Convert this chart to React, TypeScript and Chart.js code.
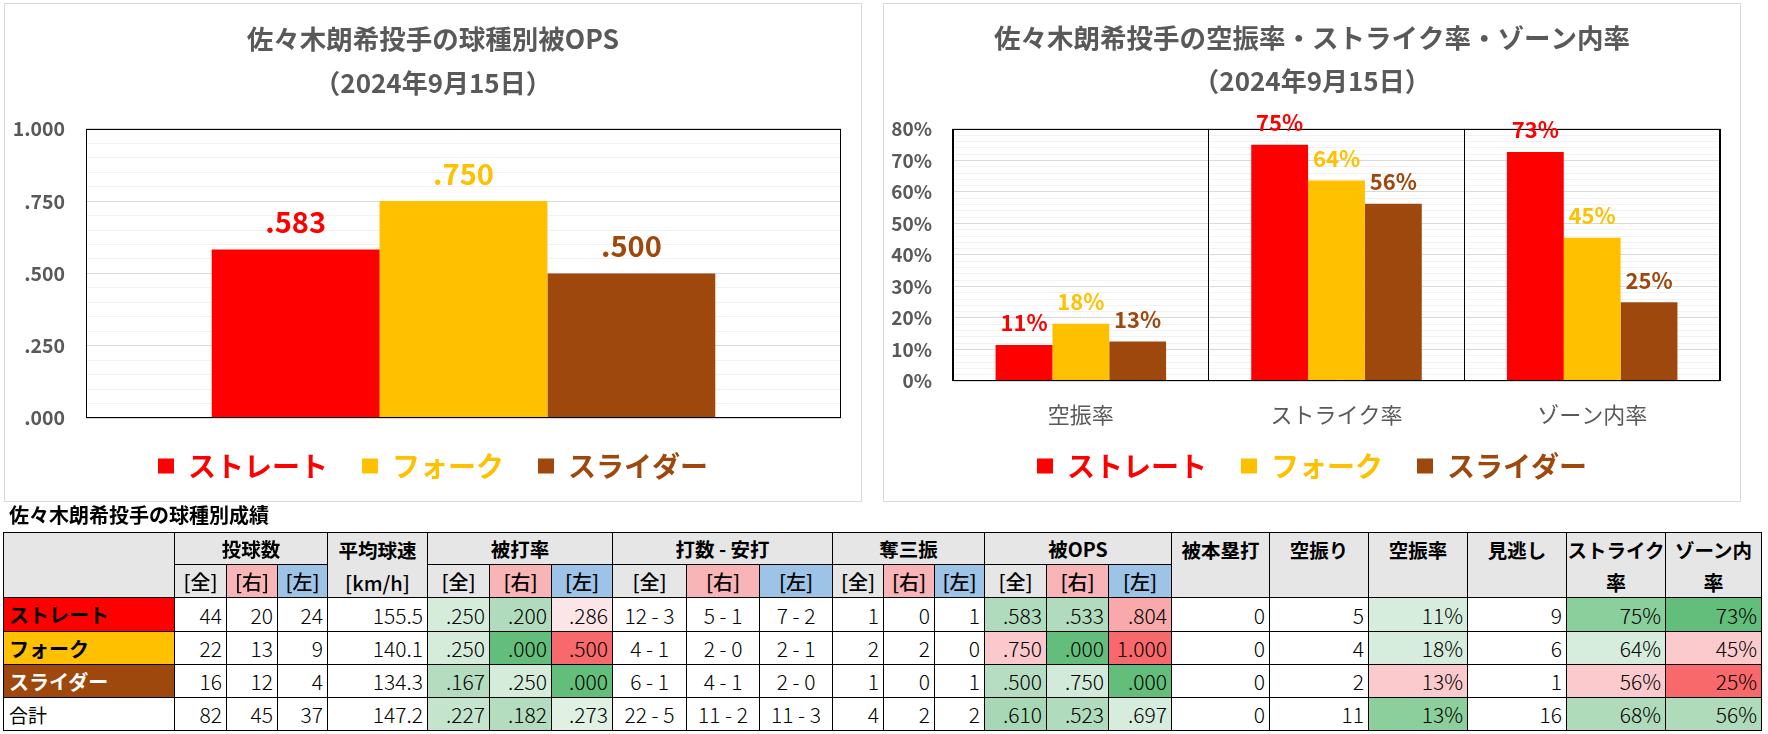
import React, { useEffect, useRef } from 'react';
import { Chart, registerables } from 'chart.js';

Chart.register(...registerables);

// ---------------- data ----------------
const pitchTypes = ['ストレート', 'フォーク', 'スライダー'];
const opsCategory = ['被OPS'];
const opsValues = [0.583, 0.75, 0.5];
const opsTickValues = [0, 0.25, 0.5, 0.75, 1];
const opsTickLabels = ['.000', '.250', '.500', '.750', '1.000'];

const rateCategories = ['空振率', 'ストライク率', 'ゾーン内率'];
const straightRates = [0.114, 0.75, 0.727];
const forkRates = [0.182, 0.636, 0.4545];
const sliderRates = [0.125, 0.5625, 0.25];
const rateTickValues = [0, 0.1, 0.2, 0.3, 0.4, 0.5, 0.6, 0.7, 0.8];
const rateTickLabels = ['0%', '10%', '20%', '30%', '40%', '50%', '60%', '70%', '80%'];

const opsTitle = '佐々木朗希投手の球種別被OPS';
const rateTitle = '佐々木朗希投手の空振率・ストライク率・ゾーン内率';
const dateLabel = '（2024年9月15日）';

const tableTitle = '佐々木朗希投手の球種別成績';
const rowNames = ['ストレート', 'フォーク', 'スライダー', '合計'];
const splitLabels = ['[全]', '[右]', '[左]'];
const pitchCounts = [[44, 20, 24], [22, 13, 9], [16, 12, 4], [82, 45, 37]];
const avgSpeeds = ['155.5', '140.1', '134.3', '147.2'];
const battingAvgs = [['.250', '.200', '.286'], ['.250', '.000', '.500'], ['.167', '.250', '.000'], ['.227', '.182', '.273']];
const atBatsHits = [['12 - 3', '5 - 1', '7 - 2'], ['4 - 1', '2 - 0', '2 - 1'], ['6 - 1', '4 - 1', '2 - 0'], ['22 - 5', '11 - 2', '11 - 3']];
const strikeouts = [[1, 0, 1], [2, 2, 0], [1, 0, 1], [4, 2, 2]];
const opsSplits = [['.583', '.533', '.804'], ['.750', '.000', '1.000'], ['.500', '.750', '.000'], ['.610', '.523', '.697']];
const homeRuns = [0, 0, 0, 0];
const swingMisses = [5, 4, 2, 11];
const whiffRateTexts = ['11%', '18%', '13%', '13%'];
const calledStrikes = [9, 6, 1, 16];
const strikeRateTexts = ['75%', '64%', '56%', '68%'];
const zoneRateTexts = ['73%', '45%', '25%', '56%'];

// ---------------- styles ----------------
const FONT = "'Noto Sans CJK JP', 'Noto Sans', sans-serif";
const GRAY = '#595959';
const pitchColors = ['#ff0000', '#ffc000', '#9e480e'];
const nameBg = ['#ff0000', '#ffc000', '#9e480e', '#ffffff'];
const nameColor = ['#000000', '#000000', '#ffffff', '#000000'];
const HDR = '#e7e6e6';
const PINK = '#f8b4b7';
const BLUE = '#9dc3e6';
const splitBg = [HDR, PINK, BLUE];
const battingAvgBg = [
  ['#d5ecdb', '#b1dbbd', '#fce5e7'],
  ['#d5ecdb', '#63be7b', '#f8696b'],
  ['#b4dcbf', '#d5ecdb', '#63be7b'],
  ['#c5e4cd', '#b4dcbf', '#e0f1e4'],
];
const opsBg = [
  ['#b1dbbd', '#b1dbbd', '#f9a9ab'],
  ['#fbc9cc', '#63be7b', '#f8696b'],
  ['#b6ddc1', '#d2eada', '#63be7b'],
  ['#a7d7b4', '#b0dbbc', '#d6ecdc'],
];
const whiffRateBg = ['#d6ecdc', '#d6ecdc', '#fbcacc', '#8ccf9d'];
const strikeRateBg = ['#8acf9c', '#d6ecdc', '#fbcacc', '#b0dbbb'];
const zoneRateBg = ['#63be7b', '#fbcacc', '#f8696b', '#b0dbbb'];

const colX = [3, 175, 227, 278, 328, 428, 490, 552, 613, 687, 760, 833, 884, 935, 985, 1047, 1109, 1172, 1270, 1369, 1468, 1567, 1666, 1762];
const rowY = [532, 565, 598, 632, 665, 698, 731];

// ---------------- chart helpers ----------------
const framePlugin = {
  id: 'frame',
  afterDatasetsDraw(chart: any) {
    const { ctx, chartArea: a } = chart;
    ctx.save();
    ctx.strokeStyle = '#000';
    ctx.lineWidth = 1;
    ctx.strokeRect(Math.round(a.left) + 0.5, Math.round(a.top) + 0.5, Math.round(a.right - a.left) - 1, Math.round(a.bottom - a.top) - 1);
    ctx.restore();
  },
};

// lets the category labels extend below the (compact) x-axis box without being clipped
const labelRoomPlugin = {
  id: 'labelRoom',
  afterLayout(chart: any) {
    const x = chart.scales.x;
    if (x) x.bottom = x.top + 70;
  },
};

function valueLabels(fmt: (v: number) => string, size: number, offset: number) {
  return {
    id: 'valueLabels',
    afterDatasetsDraw(chart: any) {
      const ctx = chart.ctx;
      chart.data.datasets.forEach((ds: any, di: number) => {
        const meta = chart.getDatasetMeta(di);
        meta.data.forEach((el: any, i: number) => {
          const v = ds.data[i];
          if (v == null) return;
          ctx.save();
          ctx.font = `bold ${size}px ${FONT}`;
          ctx.fillStyle = ds.backgroundColor;
          ctx.textAlign = 'center';
          ctx.textBaseline = 'middle';
          ctx.fillText(fmt(v), el.x, el.y - offset);
          ctx.restore();
        });
      });
    },
  };
}

const tickLabel = (values: number[], labels: string[]) => (v: any) => {
  const idx = values.findIndex((t) => Math.abs(t - Number(v)) < 1e-6);
  return idx >= 0 ? labels[idx] : '';
};

const legendOpts = {
  position: 'bottom' as const,
  labels: {
    boxWidth: 16,
    boxHeight: 15,
    padding: 34,
    font: { family: FONT, size: 28, weight: 'bold' as const },
    generateLabels: (chart: any) =>
      chart.data.datasets.map((ds: any, i: number) => ({
        text: ds.label,
        fillStyle: ds.backgroundColor,
        strokeStyle: ds.backgroundColor,
        lineWidth: 0,
        fontColor: ds.backgroundColor,
        hidden: false,
        datasetIndex: i,
      })),
  },
};

const rightSpacer = {
  position: 'right' as const,
  display: true,
  grid: { display: false, drawTicks: false },
  ticks: { display: false },
  border: { display: false },
  afterFit: (s: any) => { s.width = 20; },
};

function OpsChart() {
  const ref = useRef<HTMLCanvasElement>(null);
  useEffect(() => {
    const chart = new Chart(ref.current as HTMLCanvasElement, {
      type: 'bar',
      data: {
        labels: opsCategory,
        datasets: pitchTypes.map((p, i) => ({
          label: p,
          data: [opsValues[i]],
          backgroundColor: pitchColors[i],
          borderWidth: 0,
          categoryPercentage: 0.667,
          barPercentage: 1,
        })),
      },
      options: {
        animation: false,
        responsive: false,
        layout: { padding: { top: 0, bottom: 11, left: 0, right: 0 } },
        plugins: {
          title: { display: true, text: opsTitle, color: GRAY, font: { family: FONT, size: 26.5, weight: 'bold' }, padding: { top: 19.1, bottom: 0 } },
          subtitle: { display: true, text: dateLabel, color: GRAY, font: { family: FONT, size: 26, weight: 'bold' }, padding: { top: 12.2, bottom: 30.5 } },
          legend: legendOpts as any,
          tooltip: { enabled: false },
        },
        scales: {
          x: { grid: { display: false, drawTicks: false }, ticks: { display: false }, border: { display: false } },
          y: {
            min: 0,
            max: 1,
            ticks: {
              stepSize: 0.05,
              autoSkip: false,
              padding: 21,
              color: GRAY,
              font: { family: FONT, size: 19.5, weight: 'bold' },
              callback: tickLabel(opsTickValues, opsTickLabels),
            },
            grid: {
              drawTicks: false,
              color: (c: any) => (Math.round((c.tick?.value ?? 0) * 100) % 25 === 0 ? '#d9d9d9' : '#f2f2f2'),
            },
            border: { display: false },
            afterFit: (s: any) => { s.width = 81; },
          },
          yR: rightSpacer as any,
        },
      },
      plugins: [framePlugin, valueLabels((v) => v.toFixed(3).replace(/^0/, ''), 29, 27.5)],
    });
    return () => chart.destroy();
  }, []);
  return <canvas ref={ref} width={856} height={497} style={{ position: 'absolute', left: 5, top: 4, width: 856, height: 497 }} />;
}

function RateChart() {
  const ref = useRef<HTMLCanvasElement>(null);
  useEffect(() => {
    const series = [straightRates, forkRates, sliderRates];
    const chart = new Chart(ref.current as HTMLCanvasElement, {
      type: 'bar',
      data: {
        labels: rateCategories,
        datasets: pitchTypes.map((p, i) => ({
          label: p,
          data: series[i],
          backgroundColor: pitchColors[i],
          borderWidth: 0,
          categoryPercentage: 0.667,
          barPercentage: 1,
        })),
      },
      options: {
        animation: false,
        responsive: false,
        layout: { padding: { top: 0, bottom: 11, left: 0, right: 0 } },
        plugins: {
          title: { display: true, text: rateTitle, color: GRAY, font: { family: FONT, size: 26.5, weight: 'bold' }, padding: { top: 18.4, bottom: 0 } },
          subtitle: { display: true, text: dateLabel, color: GRAY, font: { family: FONT, size: 26, weight: 'bold' }, padding: { top: 11.5, bottom: 32 } },
          legend: legendOpts as any,
          tooltip: { enabled: false },
        },
        scales: {
          x: {
            grid: { display: true, offset: true, color: '#000', drawTicks: false, lineWidth: 1, z: 0 },
            ticks: { padding: 20, color: GRAY, font: { family: FONT, size: 22 } },
            border: { display: false },
            afterFit: (s: any) => { s.height = 37; },
          },
          y: {
            min: 0,
            max: 0.8,
            ticks: {
              stepSize: 0.02,
              autoSkip: false,
              padding: 21,
              color: GRAY,
              font: { family: FONT, size: 19, weight: 'bold' },
              callback: tickLabel(rateTickValues, rateTickLabels),
            },
            grid: {
              z: -1,
              drawTicks: false,
              color: (c: any) => (Math.round((c.tick?.value ?? 0) * 100) % 10 === 0 ? '#d9d9d9' : '#f2f2f2'),
            },
            border: { display: false },
            afterFit: (s: any) => { s.width = 69; },
          },
          yR: rightSpacer as any,
        },
      },
      plugins: [labelRoomPlugin, framePlugin, valueLabels((v) => `${Math.round(v * 100)}%`, 22, 22)],
    });
    return () => chart.destroy();
  }, []);
  return <canvas ref={ref} width={856} height={497} style={{ position: 'absolute', left: 884, top: 4, width: 856, height: 497 }} />;
}

// ---------------- table ----------------
function Cell(props: any) {
  const { c0, c1, r0, r1, bg = '#fff', align = 'center', children, style } = props;
  const left = colX[c0];
  const top = rowY[r0];
  return (
    <div
      style={{
        position: 'absolute',
        left,
        top,
        width: colX[c1] - left,
        height: rowY[r1] - top,
        background: bg,
        borderRight: '1px solid #000',
        borderBottom: '1px solid #000',
        borderLeft: c0 === 0 ? '1px solid #000' : undefined,
        borderTop: r0 === 0 ? '1px solid #000' : undefined,
        boxSizing: 'border-box',
        display: 'flex',
        alignItems: 'center',
        justifyContent: align === 'left' ? 'flex-start' : align === 'right' ? 'flex-end' : 'center',
        paddingLeft: align === 'left' ? 5 : 0,
        paddingRight: align === 'right' ? 4 : 0,
        whiteSpace: 'nowrap',
        color: '#000',
        fontFamily: FONT,
        ...style,
      }}
    >
      {children}
    </div>
  );
}

const headBold = { fontSize: 19.5, fontWeight: 700 };
const subStyle = { fontSize: 20, fontWeight: 500 };
const numStyle = { fontSize: 21, fontWeight: 300 };

function TwoLine({ a, b, bWeight = 700 }: any) {
  const h = rowY[1] - rowY[0];
  return (
    <div style={{ display: 'flex', flexDirection: 'column', alignItems: 'center', alignSelf: 'flex-start' }}>
      <div style={{ height: h, lineHeight: `${h}px`, ...headBold }}>{a}</div>
      <div style={{ height: h, lineHeight: `${h}px`, fontSize: 20, fontWeight: bWeight }}>{b}</div>
    </div>
  );
}

function StatsTable() {
  const cells: React.ReactNode[] = [];
  let k = 0;
  const add = (p: any, child?: React.ReactNode) => cells.push(<Cell key={k++} {...p}>{child}</Cell>);

  // header
  add({ c0: 0, c1: 1, r0: 0, r1: 2, bg: HDR });
  const groups: [number, string][] = [[1, '投球数'], [5, '被打率'], [8, '打数 - 安打'], [11, '奪三振'], [14, '被OPS']];
  groups.forEach(([c, t]) => {
    add({ c0: c, c1: c + 3, r0: 0, r1: 1, bg: HDR, style: headBold }, t);
    splitLabels.forEach((s, j) => add({ c0: c + j, c1: c + j + 1, r0: 1, r1: 2, bg: splitBg[j], style: subStyle }, s));
  });
  add({ c0: 4, c1: 5, r0: 0, r1: 2, bg: HDR }, <TwoLine a="平均球速" b="[km/h]" bWeight={500} />);
  const singles: [number, string, string][] = [
    [17, '被本塁打', ''],
    [18, '空振り', ''],
    [19, '空振率', ''],
    [20, '見逃し', ''],
    [21, 'ストライク', '率'],
    [22, 'ゾーン内', '率'],
  ];
  singles.forEach(([c, a, b]) => add({ c0: c, c1: c + 1, r0: 0, r1: 2, bg: HDR }, <TwoLine a={a} b={b} />));

  // body
  rowNames.forEach((name, i) => {
    const r = i + 2;
    add(
      { c0: 0, c1: 1, r0: r, r1: r + 1, bg: nameBg[i], align: 'left', style: { fontSize: i < 3 ? 20 : 19, fontWeight: i < 3 ? 700 : 400, color: nameColor[i] } },
      name,
    );
    pitchCounts[i].forEach((v, j) => add({ c0: 1 + j, c1: 2 + j, r0: r, r1: r + 1, align: 'right', style: numStyle }, v));
    add({ c0: 4, c1: 5, r0: r, r1: r + 1, align: 'right', style: numStyle }, avgSpeeds[i]);
    battingAvgs[i].forEach((v, j) => add({ c0: 5 + j, c1: 6 + j, r0: r, r1: r + 1, align: 'right', bg: battingAvgBg[i][j], style: numStyle }, v));
    atBatsHits[i].forEach((v, j) => add({ c0: 8 + j, c1: 9 + j, r0: r, r1: r + 1, align: 'center', style: numStyle }, v));
    strikeouts[i].forEach((v, j) => add({ c0: 11 + j, c1: 12 + j, r0: r, r1: r + 1, align: 'right', style: numStyle }, v));
    opsSplits[i].forEach((v, j) => add({ c0: 14 + j, c1: 15 + j, r0: r, r1: r + 1, align: 'right', bg: opsBg[i][j], style: numStyle }, v));
    add({ c0: 17, c1: 18, r0: r, r1: r + 1, align: 'right', style: numStyle }, homeRuns[i]);
    add({ c0: 18, c1: 19, r0: r, r1: r + 1, align: 'right', style: numStyle }, swingMisses[i]);
    add({ c0: 19, c1: 20, r0: r, r1: r + 1, align: 'right', bg: whiffRateBg[i], style: numStyle }, whiffRateTexts[i]);
    add({ c0: 20, c1: 21, r0: r, r1: r + 1, align: 'right', style: numStyle }, calledStrikes[i]);
    add({ c0: 21, c1: 22, r0: r, r1: r + 1, align: 'right', bg: strikeRateBg[i], style: numStyle }, strikeRateTexts[i]);
    add({ c0: 22, c1: 23, r0: r, r1: r + 1, align: 'right', bg: zoneRateBg[i], style: numStyle }, zoneRateTexts[i]);
  });

  return (
    <>
      <div style={{ position: 'absolute', left: 9, top: 502, height: 26, lineHeight: '26px', fontFamily: FONT, fontSize: 20, fontWeight: 700, color: '#000', whiteSpace: 'nowrap' }}>
        {tableTitle}
      </div>
      {cells}
    </>
  );
}

export default function App() {
  return (
    <div style={{ position: 'absolute', left: 0, top: 0, width: 1768, height: 734, background: '#fff', overflow: 'hidden', fontFamily: FONT }}>
      <div style={{ position: 'absolute', left: 4, top: 3, width: 858, height: 499, border: '1px solid #d9d9d9', boxSizing: 'border-box' }} />
      <div style={{ position: 'absolute', left: 883, top: 3, width: 858, height: 499, border: '1px solid #d9d9d9', boxSizing: 'border-box' }} />
      <OpsChart />
      <RateChart />
      <StatsTable />
    </div>
  );
}
